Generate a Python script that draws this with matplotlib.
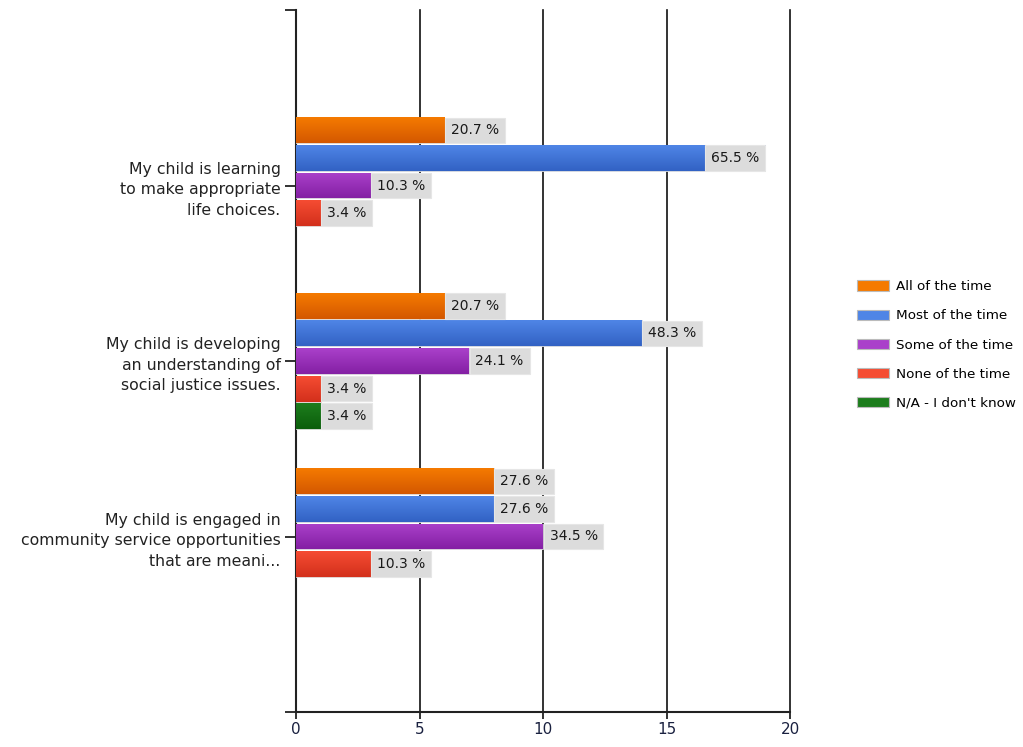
import numpy as np
import matplotlib
matplotlib.use('Agg')
import matplotlib.pyplot as plt
from matplotlib.colors import to_rgb
from matplotlib.patches import Patch

questions = ['My child is learning\nto make appropriate\nlife choices.',
             'My child is developing\nan understanding of\nsocial justice issues.',
             'My child is engaged in\ncommunity service opportunities\nthat are meani...']
answers = ['All of the time', 'Most of the time', 'Some of the time',
           'None of the time', "N/A - I don't know"]
# response counts per answer (rows) and question (columns); None = no bar
counts = [[6, 6, 8],
          [19, 14, 8],
          [3, 7, 10],
          [1, 1, 3],
          [None, 1, None]]
percents = [[20.7, 20.7, 27.6],
            [65.5, 48.3, 27.6],
            [10.3, 24.1, 34.5],
            [3.4, 3.4, 10.3],
            [None, 3.4, None]]
# (top, bottom) gradient colours
colors = [('#f57a00', '#d45800'),
          ('#4f85e6', '#3262c4'),
          ('#aa40ca', '#8420a4'),
          ('#f54c32', '#d3301c'),
          ('#1d7d1d', '#0b5e0b')]
xmax = 20

fig = plt.figure(figsize=(10.23, 7.47), dpi=100)
ax = fig.add_axes([296 / 1023, 35 / 747, 494 / 1023, 702 / 747])
ax.set_xlim(0, xmax)
ax.set_ylim(4, 0)

slot = 0.157
bar_h = 0.148
y_pos = np.arange(1, len(questions) + 1)
n = len(answers)
fs = 10
pad = 0.42

for i, ans in enumerate(answers):
    top, bot = np.array(to_rgb(colors[i][0])), np.array(to_rgb(colors[i][1]))
    grad = np.linspace(0, 1, 32)[:, None, None]
    img = (top * (1 - grad) + bot * grad).repeat(2, axis=1)
    for j, q in enumerate(questions):
        v = counts[i][j]
        if v is None:
            continue
        yc = y_pos[j] + (i - (n - 1) / 2) * slot
        bars = ax.barh(yc, v, height=bar_h, color=colors[i][1],
                       edgecolor='#e0e0e0', linewidth=0.6, zorder=3)
        b = bars[0]
        im = ax.imshow(img, extent=(0, v, yc + bar_h / 2, yc - bar_h / 2),
                       aspect='auto', origin='upper', zorder=3.5,
                       interpolation='bilinear')
        im.set_clip_path(b)
        label = '%.1f %%' % percents[i][j]
        box = dict(boxstyle='square,pad=%.2f' % pad, fc='#dcdcdc', ec='#e6e6e6', lw=0.8)
        off = pad * fs + 0.5
        if v + 2.8 > xmax:
            ax.annotate(label, (v, yc), xytext=(-off, 0), textcoords='offset points',
                        ha='right', va='center', fontsize=fs, color='#1a1a1a',
                        bbox=box, zorder=5)
        else:
            ax.annotate(label, (v, yc), xytext=(off, 0), textcoords='offset points',
                        ha='left', va='center', fontsize=fs, color='#1a1a1a',
                        bbox=box, zorder=5)
ax.set_xlim(0, xmax)
ax.set_ylim(4, 0)

ax.set_xticks(np.arange(0, xmax + 1, 5))
ax.set_yticks([0, 1, 2, 3, 4])
ax.set_yticklabels([''] + questions + [''], fontsize=11.3, color='#222222',
                   linespacing=1.45)
ax.tick_params(axis='y', length=8, width=1.3, color='#222222', pad=3)
ax.tick_params(axis='x', length=5, width=1.3, color='#222222', labelsize=11,
               labelcolor='#1a2140', pad=2)
for s in ['top', 'right']:
    ax.spines[s].set_visible(False)
for s in ['left', 'bottom']:
    ax.spines[s].set_linewidth(1.5)
    ax.spines[s].set_color('#222222')
for x in [5, 10, 15, 20]:
    ax.axvline(x, color='#111111', lw=1.2, zorder=1, clip_on=False)

handles = [Patch(facecolor=c[0], edgecolor='#bbbbbb', lw=0.8) for c in colors]
fig.legend(handles, answers, loc='center left', bbox_to_anchor=(0.826, 0.538),
           frameon=False, fontsize=9.7, labelspacing=1.2, handlelength=2.4,
           handleheight=0.8, handletextpad=0.5)

fig.savefig('out.png', dpi=100)
